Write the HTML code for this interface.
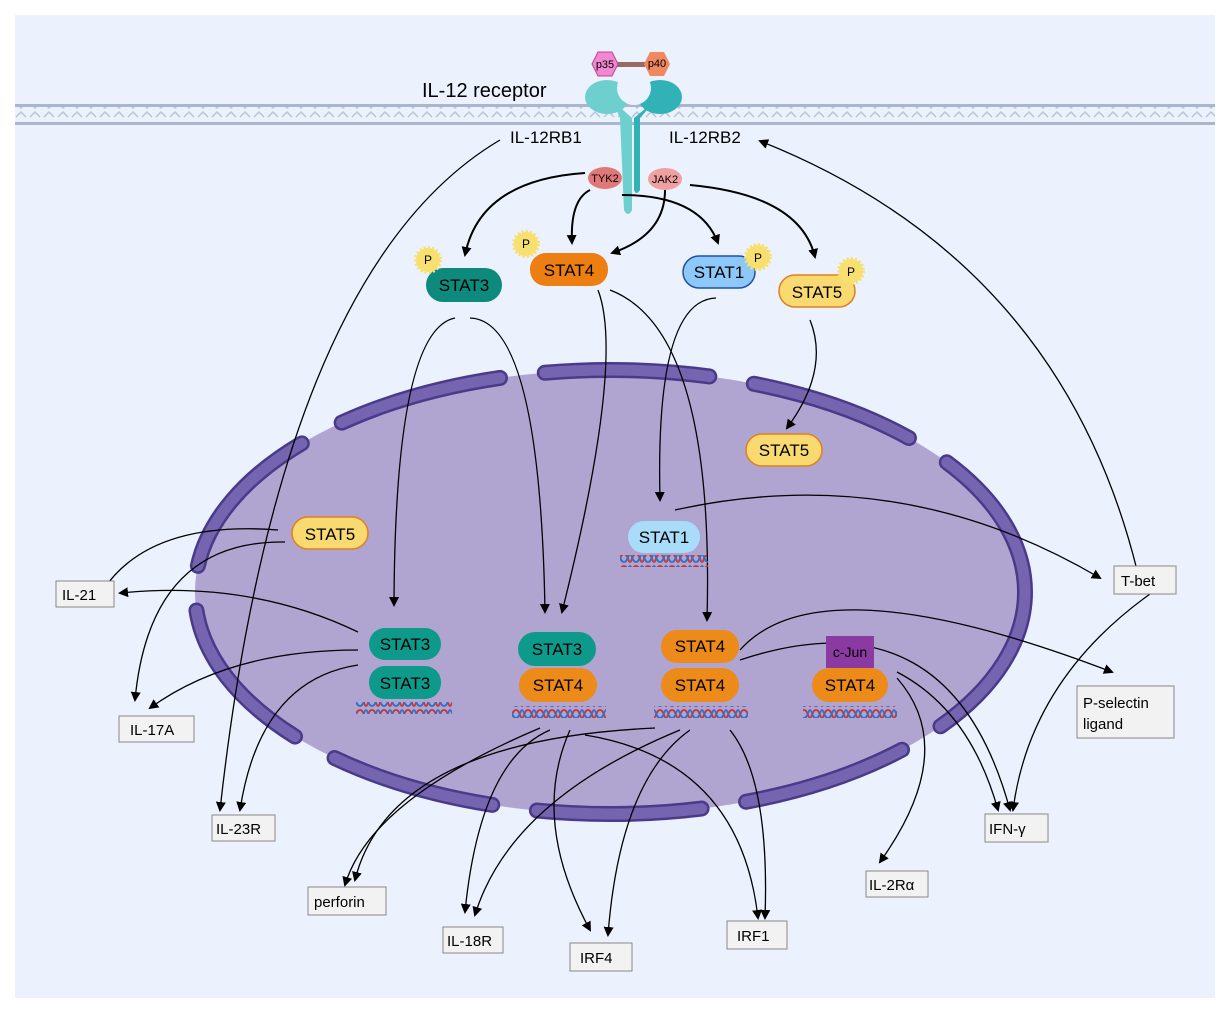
<!DOCTYPE html>
<html><head><meta charset="utf-8"><style>
body{margin:0;background:#fff;}
svg{display:block;font-family:"Liberation Sans",sans-serif;}
</style></head><body>
<svg width="1229" height="1014" viewBox="0 0 1229 1014" xmlns="http://www.w3.org/2000/svg">
<defs>
<marker id="a" markerWidth="10" markerHeight="10" refX="8" refY="5" orient="auto" markerUnits="userSpaceOnUse"><path d="M0,0 L10,5 L0,10 Z" fill="#000"/></marker>
<pattern id="dna" width="12" height="12" patternUnits="userSpaceOnUse"><path d="M0,2 C4,2 4,10 6,10 C8,10 8,2 12,2" stroke="#d03030" fill="none" stroke-width="1.8"/><path d="M0,10 C4,10 4,2 6,2 C8,2 8,10 12,10" stroke="#3070c0" fill="none" stroke-width="1.8"/></pattern>
<pattern id="mem" width="14" height="20" patternUnits="userSpaceOnUse"><path d="M2,3 L7,8 L12,3 M2,17 L7,12 L12,17" stroke="#b8c4da" fill="none" stroke-width="1.5"/></pattern>
</defs>
<rect x="15" y="15" width="1200" height="983" fill="#ebf1fd"/>
<!-- membrane -->
<rect x="15" y="105" width="1200" height="20" fill="url(#mem)"/>
<rect x="15" y="104" width="1200" height="3" fill="#a9b6cc"/>
<rect x="15" y="122" width="1200" height="3" fill="#a9b6cc"/>
<!-- nucleus -->
<ellipse cx="610" cy="592" rx="415" ry="222" fill="#b0a5d1"/>
<ellipse cx="610" cy="592" rx="415" ry="222" fill="none" stroke="#4a3a8a" stroke-width="16" stroke-dasharray="165 45" stroke-linecap="round"/>
<ellipse cx="610" cy="592" rx="415" ry="222" fill="none" stroke="#7564b0" stroke-width="11" stroke-dasharray="165 45" stroke-linecap="round"/>
<!-- receptor -->
<ellipse cx="607" cy="97" rx="22" ry="17" fill="#6ecfcf"/>
<ellipse cx="660" cy="97" rx="22" ry="17" fill="#30b2b6"/>
<path d="M612,100 L632,118 L632,210 Q628,218 624,210 L620,118 Z" fill="#6ecfcf"/>
<path d="M656,100 L640,118 L640,190 Q636,196 634,190 L634,118 Z" fill="#30b2b6"/>
<circle cx="634" cy="88" r="17" fill="#ebf1fd"/>
<rect x="615" y="62" width="30" height="5" fill="#9a6a62"/>
<polygon points="592,64 598,52 612,52 618,64 612,76 598,76" fill="#f088d0" stroke="#c040a0"/>
<text x="605" y="68" font-size="11" text-anchor="middle">p35</text>
<polygon points="644,64 650,52 664,52 670,64 664,76 650,76" fill="#f08860"/>
<text x="657" y="67" font-size="11" text-anchor="middle">p40</text>
<ellipse cx="605" cy="178" rx="17" ry="11" fill="#e07878"/>
<text x="605" y="182" font-size="11" text-anchor="middle">TYK2</text>
<ellipse cx="665" cy="179" rx="17" ry="11" fill="#f0a0a0"/>
<text x="665" y="183" font-size="11" text-anchor="middle">JAK2</text>
<g font-size="20"><text x="422" y="97">IL-12 receptor</text></g>
<g font-size="17"><text x="510" y="143">IL-12RB1</text><text x="669" y="143">IL-12RB2</text></g>
<!-- arrows -->
<g fill="none" stroke="#000" stroke-width="1.3" marker-end="url(#a)">
<path d="M585,173 Q480,180 465,255" stroke-width="2"/>
<path d="M590,190 Q570,200 572,243" stroke-width="2"/>
<path d="M665,190 Q665,235 612,253" stroke-width="2"/>
<path d="M622,195 Q700,195 718,243" stroke-width="2"/>
<path d="M690,185 Q800,195 815,257" stroke-width="2"/>
<path d="M500,140 Q280,270 220,810"/>
<path d="M1137,570 Q1060,260 760,141"/>
<path d="M455,318 Q395,330 394,605"/>
<path d="M470,318 Q540,320 545,612"/>
<path d="M598,290 Q625,360 562,612"/>
<path d="M610,290 Q715,330 707,620"/>
<path d="M716,298 Q655,300 660,500"/>
<path d="M810,320 Q830,370 787,428"/>
<path d="M675,510 Q900,460 1100,578"/>
<path d="M278,530 Q150,520 103,590"/>
<path d="M285,542 Q150,540 135,700"/>
<path d="M358,632 Q250,580 120,593"/>
<path d="M358,650 Q230,650 150,708"/>
<path d="M358,665 Q260,680 240,810"/>
<path d="M740,650 Q820,560 1112,672"/>
<path d="M740,660 Q950,590 1010,810"/>
<path d="M897,672 Q970,710 998,810"/>
<path d="M897,678 Q960,750 880,862"/>
<path d="M1150,594 Q1030,680 1013,810"/>
<path d="M540,728 Q370,800 345,885"/>
<path d="M655,728 Q390,740 355,880"/>
<path d="M550,730 Q480,760 465,912"/>
<path d="M680,730 Q510,800 475,915"/>
<path d="M570,730 Q530,820 590,930"/>
<path d="M690,730 Q620,780 608,935"/>
<path d="M585,735 Q740,760 758,918"/>
<path d="M730,730 Q770,780 765,918"/>
</g>
<!-- STAT shapes -->
<g font-size="17" text-anchor="middle">
<rect x="426" y="268" width="76" height="34" rx="17" fill="#0e8a7c"/><text x="464" y="291">STAT3</text>
<rect x="530" y="253" width="78" height="33" rx="16" fill="#ec7e12"/><text x="569" y="276">STAT4</text>
<rect x="683" y="256" width="72" height="32" rx="16" fill="#8cc8f8" stroke="#2050a0" stroke-width="1.5"/><text x="719" y="278">STAT1</text>
<rect x="779" y="275" width="76" height="32" rx="16" fill="#f8da70" stroke="#e08020" stroke-width="1.5"/><text x="817" y="298">STAT5</text>
<rect x="746" y="434" width="76" height="32" rx="16" fill="#f8da70" stroke="#e08020" stroke-width="1.5"/><text x="784" y="456">STAT5</text>
<rect x="292" y="517" width="76" height="32" rx="16" fill="#f8da70" stroke="#e08020" stroke-width="1.5"/><text x="330" y="540">STAT5</text>
<rect x="628" y="521" width="72" height="32" rx="16" fill="#a8dcf8"/><text x="664" y="543">STAT1</text>
<rect x="369" y="628" width="72" height="32" rx="16" fill="#0e9a8a"/><text x="405" y="650">STAT3</text>
<rect x="369" y="666" width="72" height="33" rx="16" fill="#0e9a8a"/><text x="405" y="689">STAT3</text>
<rect x="518" y="632" width="78" height="34" rx="17" fill="#0e9a8a"/><text x="557" y="655">STAT3</text>
<rect x="519" y="668" width="78" height="34" rx="17" fill="#ec8a1a"/><text x="558" y="691">STAT4</text>
<rect x="661" y="630" width="78" height="33" rx="16" fill="#ec8a1a"/><text x="700" y="652">STAT4</text>
<rect x="661" y="668" width="78" height="34" rx="17" fill="#ec8a1a"/><text x="700" y="691">STAT4</text>
<rect x="812" y="668" width="76" height="34" rx="17" fill="#ec8a1a"/><text x="850" y="691">STAT4</text>
<rect x="826" y="636" width="48" height="32" fill="#8a3aa0"/><text x="850" y="657" font-size="14">c-Jun</text>
</g>
<!-- P stars -->
<g font-size="12" fill="#000">
<circle cx="428" cy="260" r="12" fill="#f8e070" stroke="#f8e070" stroke-width="4" stroke-dasharray="2 2"/><text x="424" y="264">P</text>
<circle cx="526" cy="244" r="12" fill="#f8e070" stroke="#f8e070" stroke-width="4" stroke-dasharray="2 2"/><text x="522" y="248">P</text>
<circle cx="758" cy="257" r="12" fill="#f8e070" stroke="#f8e070" stroke-width="4" stroke-dasharray="2 2"/><text x="754" y="262">P</text>
<circle cx="851" cy="271" r="12" fill="#f8e070" stroke="#f8e070" stroke-width="4" stroke-dasharray="2 2"/><text x="847" y="276">P</text>
</g>
<!-- DNA -->
<rect x="620" y="555" width="88" height="12" fill="url(#dna)"/>
<rect x="356" y="702" width="96" height="12" fill="url(#dna)"/>
<rect x="512" y="706" width="94" height="12" fill="url(#dna)"/>
<rect x="654" y="706" width="94" height="12" fill="url(#dna)"/>
<rect x="803" y="706" width="94" height="12" fill="url(#dna)"/>
<!-- gene boxes -->
<g font-size="15" fill="#000">
<g fill="#f2f2f2" stroke="#888"><rect x="56" y="581" width="58" height="26"/><rect x="119" y="716" width="75" height="26"/><rect x="212" y="815" width="63" height="26"/><rect x="308" y="887" width="78" height="28"/><rect x="443" y="927" width="60" height="26"/><rect x="570" y="943" width="62" height="28"/><rect x="727" y="921" width="60" height="28"/><rect x="866" y="871" width="62" height="26"/><rect x="985" y="814" width="63" height="28"/><rect x="1114" y="566" width="62" height="28"/><rect x="1077" y="686" width="97" height="52"/></g>
<text x="62" y="600">IL-21</text><text x="130" y="735">IL-17A</text><text x="216" y="834">IL-23R</text><text x="314" y="907">perforin</text><text x="447" y="946">IL-18R</text><text x="580" y="963">IRF4</text><text x="737" y="941">IRF1</text><text x="869" y="890">IL-2Rα</text><text x="989" y="834">IFN-γ</text><text x="1121" y="586">T-bet</text><text x="1083" y="708">P-selectin</text><text x="1083" y="729">ligand</text>
</g>
</svg>
</body></html>
